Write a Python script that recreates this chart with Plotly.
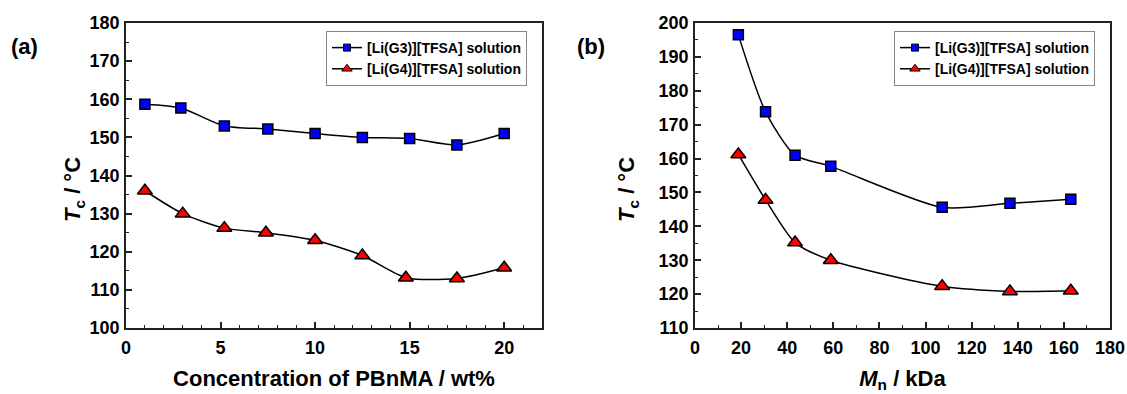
import plotly.graph_objects as go

# ---------------- data ----------------
# Panel (a): Tc vs concentration of PBnMA
conc_g3 = [1.0, 2.9, 5.2, 7.5, 10.0, 12.5, 15.0, 17.5, 20.0]
tc_g3_a = [158.7, 157.7, 153.0, 152.2, 151.0, 150.0, 149.7, 148.0, 151.0]
conc_g4 = [1.0, 3.0, 5.2, 7.4, 10.0, 12.5, 14.8, 17.5, 20.0]
tc_g4_a = [136.0, 130.0, 126.2, 125.0, 123.0, 119.0, 113.2, 113.0, 115.8]

# Panel (b): Tc vs Mn
mn_kda = [18.8, 30.6, 43.4, 58.9, 107.2, 136.6, 163.0]
tc_g3_b = [196.5, 173.8, 161.0, 157.7, 145.6, 146.8, 148.0]
tc_g4_b = [161.2, 147.8, 135.2, 130.0, 122.3, 120.8, 121.0]

series_names = ["[Li(G3)][TFSA] solution", "[Li(G4)][TFSA] solution"]
xticks_a = [0, 5, 10, 15, 20]
yticks_a = [100, 110, 120, 130, 140, 150, 160, 170, 180]
xticks_b = [0, 20, 40, 60, 80, 100, 120, 140, 160, 180]
yticks_b = [110, 120, 130, 140, 150, 160, 170, 180, 190, 200]

# ---------------- style ----------------
W, H = 1127, 394
FONT = "Liberation Sans, Arial, sans-serif"
AX = "#222222"
BLUE = "#0000FF"
RED = "#FF0000"


def px_x(p):
    return p / W


def px_y(p):
    return 1 - p / H


def bold(s):
    return "<b>%s</b>" % s


sq = dict(symbol="square", size=10, color=BLUE, line=dict(color="black", width=1.5))
tri = dict(symbol="triangle-up", size=13, color=RED, line=dict(color="black", width=1.5))
sq_leg = dict(symbol="square", size=7, color=BLUE, line=dict(color="black", width=1))
tri_leg = dict(symbol="triangle-up", size=9, color=RED, line=dict(color="black", width=1))
line_style = dict(color="black", width=1.5, shape="spline", smoothing=0.7)

fig = go.Figure()

# panel a
fig.add_trace(go.Scatter(x=conc_g3, y=tc_g3_a, mode="lines+markers", marker=sq,
                         line=line_style, xaxis="x", yaxis="y", showlegend=False))
fig.add_trace(go.Scatter(x=conc_g4, y=tc_g4_a, mode="lines+markers", marker=tri,
                         line=line_style, xaxis="x", yaxis="y", showlegend=False))
fig.add_trace(go.Scatter(x=[None], y=[None], mode="lines+markers", marker=sq_leg,
                         line=dict(color="black", width=1.5), name=bold(series_names[0]),
                         xaxis="x", yaxis="y", legend="legend"))
fig.add_trace(go.Scatter(x=[None], y=[None], mode="lines+markers", marker=tri_leg,
                         line=dict(color="black", width=1.5), name=bold(series_names[1]),
                         xaxis="x", yaxis="y", legend="legend"))

# panel b
fig.add_trace(go.Scatter(x=mn_kda, y=tc_g3_b, mode="lines+markers", marker=sq,
                         line=line_style, xaxis="x2", yaxis="y2", showlegend=False))
fig.add_trace(go.Scatter(x=mn_kda, y=tc_g4_b, mode="lines+markers", marker=tri,
                         line=line_style, xaxis="x2", yaxis="y2", showlegend=False))
fig.add_trace(go.Scatter(x=[None], y=[None], mode="lines+markers", marker=sq_leg,
                         line=dict(color="black", width=1.5), name=bold(series_names[0]),
                         xaxis="x2", yaxis="y2", legend="legend2"))
fig.add_trace(go.Scatter(x=[None], y=[None], mode="lines+markers", marker=tri_leg,
                         line=dict(color="black", width=1.5), name=bold(series_names[1]),
                         xaxis="x2", yaxis="y2", legend="legend2"))

tickfont = dict(family=FONT, size=18, color="black", weight="bold")
titlefont = dict(family=FONT, size=22, color="black", weight="bold")
legfont = dict(family=FONT, size=14, color="black", weight="bold")


def axis(domain, rng, tickvals, minor_dtick, anchor, title=None, standoff_lbl=0):
    d = dict(domain=domain, range=rng, tickvals=tickvals,
             ticktext=[bold(v) for v in tickvals],
             ticks="inside", ticklen=6, automargin=False,
             tickwidth=1.5, tickcolor=AX, showline=True, linecolor=AX, linewidth=1.5,
             mirror=True, showgrid=False, zeroline=False, tickfont=tickfont,
             anchor=anchor, fixedrange=True, ticklabelstandoff=standoff_lbl,
             minor=dict(dtick=minor_dtick, ticks="inside", ticklen=3, tickwidth=1.2,
                        tickcolor=AX, showgrid=False))
    if title:
        d["title"] = dict(text=bold(title), font=titlefont, standoff=13)
    return d


ydom = [px_y(328), px_y(23)]
fig.update_layout(
    width=W, height=H,
    margin=dict(l=0, r=0, t=0, b=0),
    paper_bgcolor="white", plot_bgcolor="white",
    xaxis=axis([px_x(126), px_x(542)], [0, 22], xticks_a, 1, "y",
               "Concentration of PBnMA / wt%", 3),
    yaxis=axis(ydom, [100, 180], yticks_a, 5, "x", standoff_lbl=1),
    xaxis2=axis([px_x(695), px_x(1110)], [0, 180], xticks_b, 10, "y2",
                "<i>M</i><sub>n</sub> / kDa", 3),
    yaxis2=axis(ydom, [110, 200], yticks_b, 5, "x2", standoff_lbl=1),
    legend=dict(x=px_x(527), y=px_y(31), xanchor="right", yanchor="top",
                bordercolor="#888888", borderwidth=1, bgcolor="white",
                font=legfont, tracegroupgap=0),
    legend2=dict(x=px_x(1095), y=px_y(31), xanchor="right", yanchor="top",
                 bordercolor="#888888", borderwidth=1, bgcolor="white",
                 font=legfont, tracegroupgap=0),
    annotations=[
        dict(text=bold("(a)"), x=px_x(9), y=px_y(32), xref="paper", yref="paper",
             xanchor="left", showarrow=False, font=titlefont),
        dict(text=bold("(b)"), x=px_x(575), y=px_y(32), xref="paper", yref="paper",
             xanchor="left", showarrow=False, font=titlefont),
        dict(text=bold("<i>T</i><sub>c</sub> / °C"), textangle=-90, x=px_x(58), y=px_y(190),
             xref="paper", yref="paper", showarrow=False, font=titlefont),
        dict(text=bold("<i>T</i><sub>c</sub> / °C"), textangle=-90, x=px_x(628), y=px_y(190),
             xref="paper", yref="paper", showarrow=False, font=titlefont),
    ],
)

fig.write_html("out.html")
